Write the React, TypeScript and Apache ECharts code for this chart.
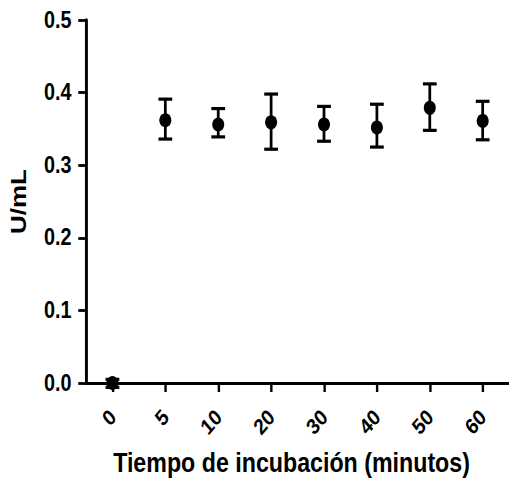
import React, { useEffect, useRef } from "react";
import * as echarts from "echarts";

const categories = ["0", "5", "10", "20", "30", "40", "50", "60"];
const means = [0.0, 0.362, 0.356, 0.359, 0.356, 0.352, 0.379, 0.361];
const lows = [-0.006, 0.336, 0.339, 0.322, 0.333, 0.325, 0.348, 0.335];
const highs = [0.005, 0.391, 0.378, 0.398, 0.381, 0.384, 0.412, 0.388];
const yTicks = [0.0, 0.1, 0.2, 0.3, 0.4, 0.5];

const FONT = '"Liberation Sans", Arial, sans-serif';
const SX = 0.86;
const W = 509;
const H = 485;

export default function App() {
  const ref = useRef<HTMLDivElement>(null);
  useEffect(() => {
    if (!ref.current) return;
    const chart = echarts.init(ref.current, null, { renderer: "svg" });
    const errData = categories.map((c, i) => [i, lows[i], highs[i]]);
    chart.setOption({
      animation: false,
      backgroundColor: "#ffffff",
      grid: { left: Math.round(80 / SX), top: 20, right: -1, bottom: 102, containLabel: false },
      xAxis: {
        type: "category",
        data: categories,
        boundaryGap: true,
        name: "Tiempo de incubación (minutos)",
        nameLocation: "middle",
        nameGap: 66,
        nameTextStyle: {
          fontFamily: FONT,
          fontWeight: "bold",
          fontSize: 27,
          color: "#000",
          padding: [0, 14, 0, 0],
        },
        axisLine: { lineStyle: { color: "#000", width: 3 } },
        axisTick: { show: true, alignWithLabel: true, length: 9, lineStyle: { color: "#000", width: 2.8 } },
        axisLabel: {
          rotate: 45,
          margin: 30,
          fontFamily: FONT,
          fontWeight: "bold",
          fontSize: 22,
          color: "#000",
        },
        splitLine: { show: false },
      },
      yAxis: {
        type: "value",
        min: 0,
        max: 0.5,
        interval: 0.1,
        name: "U/mL",
        nameLocation: "middle",
        nameGap: 66,
        nameRotate: 90,
        nameTextStyle: { fontFamily: FONT, fontWeight: "bold", fontSize: 26, color: "#000" },
        axisLine: { show: true, lineStyle: { color: "#000", width: 3.4 } },
        axisTick: { show: true, length: 9, lineStyle: { color: "#000", width: 2.8 } },
        axisLabel: {
          margin: 17,
          fontFamily: FONT,
          fontWeight: "bold",
          fontSize: 23,
          color: "#000",
          formatter: (v: number) => {
            const t = yTicks.find((x) => Math.abs(x - v) < 1e-9);
            return (t !== undefined ? t : v).toFixed(1);
          },
        },
        splitLine: { show: false },
      },
      series: [
        {
          type: "custom",
          data: errData,
          z: 3,
          renderItem: (params: any, api: any) => {
            const x = api.value(0);
            const lo = api.coord([x, api.value(1)]);
            const hi = api.coord([x, api.value(2)]);
            const half = 8;
            const style = { stroke: "#000", lineWidth: 3.2 };
            return {
              type: "group",
              children: [
                { type: "line", shape: { x1: lo[0], y1: lo[1], x2: hi[0], y2: hi[1] }, style },
                { type: "line", shape: { x1: hi[0] - half, y1: hi[1], x2: hi[0] + half, y2: hi[1] }, style },
                { type: "line", shape: { x1: lo[0] - half, y1: lo[1], x2: lo[0] + half, y2: lo[1] }, style },
              ],
            };
          },
        },
        {
          type: "scatter",
          data: means,
          symbol: "circle",
          symbolSize: 14,
          itemStyle: { color: "#000", opacity: 1 },
          z: 4,
          clip: false,
        },
      ],
    });
    return () => chart.dispose();
  }, []);
  return (
    <div style={{ position: "fixed", left: 0, top: 0, width: W, height: H, overflow: "hidden", background: "#fff" }}>
      <div
        ref={ref}
        style={{
          width: Math.round(W / SX),
          height: H,
          transform: `scaleX(${SX})`,
          transformOrigin: "0 0",
        }}
      />
    </div>
  );
}
